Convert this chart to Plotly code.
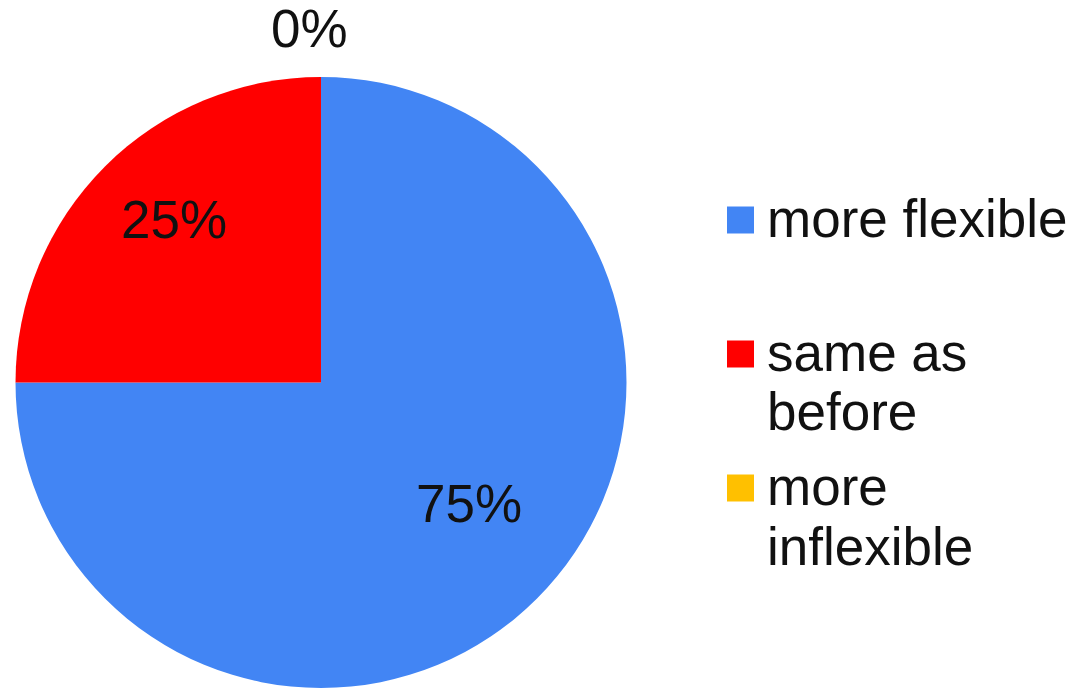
import math
import plotly.graph_objects as go

# Survey answers (share of respondents, %)
categories = ["more flexible", "same as before", "more inflexible"]
legend_lines = [["more flexible"], ["same as", "before"], ["more", "inflexible"]]
values = [75, 25, 0]
colors = ["#4285F4", "#FF0000", "#FFC000"]

W, H = 1073, 688
FONT = "Liberation Sans, Arial, sans-serif"
TEXT = "#111111"
FS = 53

# pie geometry in pixels
cx, cy, R = 321.0, 382.5, 305.5
# radial placement of each percentage label, as a fraction of the radius
label_radius = [0.64, 0.70, 1.13]
label_nudge = [(10, -17), (4, -12), (-11, -9)]

fig = go.Figure(
    go.Pie(
        labels=categories,
        values=values,
        marker=dict(colors=colors, line=dict(width=0)),
        sort=False,
        direction="clockwise",
        rotation=0,
        textinfo="none",
        showlegend=False,
        hoverinfo="label+percent",
        domain=dict(x=[(cx - R) / W, (cx + R) / W], y=[0, 2 * R / H]),
    )
)

# percentage labels placed along each slice's middle angle
total = sum(values)
start = 0.0
annotations = []
for i, v in enumerate(values):
    sweep = 360.0 * v / total
    mid = math.radians(start + sweep / 2)
    start += sweep
    px = cx + label_radius[i] * R * math.sin(mid) + label_nudge[i][0]
    py = cy - label_radius[i] * R * math.cos(mid) + label_nudge[i][1]
    annotations.append(
        dict(
            x=px / W, y=1 - py / H, xref="paper", yref="paper",
            text=f"{round(100 * v / total)}%", showarrow=False,
            xanchor="center", yanchor="middle",
            font=dict(family=FONT, size=FS, color=TEXT),
        )
    )

# legend: colour square plus wrapped category text
shapes = []
leg_x, leg_y0, leg_step, line_step, sq = 727, 220, 134, 60, 27
for i, lines in enumerate(legend_lines):
    yc = leg_y0 + i * leg_step
    shapes.append(
        dict(
            type="rect", xref="paper", yref="paper",
            x0=leg_x / W, x1=(leg_x + sq) / W,
            y0=1 - (yc + sq / 2) / H, y1=1 - (yc - sq / 2) / H,
            fillcolor=colors[i], line=dict(width=0),
        )
    )
    for j, line in enumerate(lines):
        annotations.append(
            dict(
                x=(leg_x + sq + 11) / W, y=1 - (yc + j * line_step - 2) / H,
                xref="paper", yref="paper", text=line, showarrow=False,
                xanchor="left", yanchor="middle",
                font=dict(family=FONT, size=FS, color=TEXT),
            )
        )

fig.update_layout(
    width=W, height=H,
    margin=dict(l=0, r=0, t=0, b=0),
    paper_bgcolor="white", plot_bgcolor="white",
    annotations=annotations, shapes=shapes,
    showlegend=False,
)

fig.write_html("out.html")
